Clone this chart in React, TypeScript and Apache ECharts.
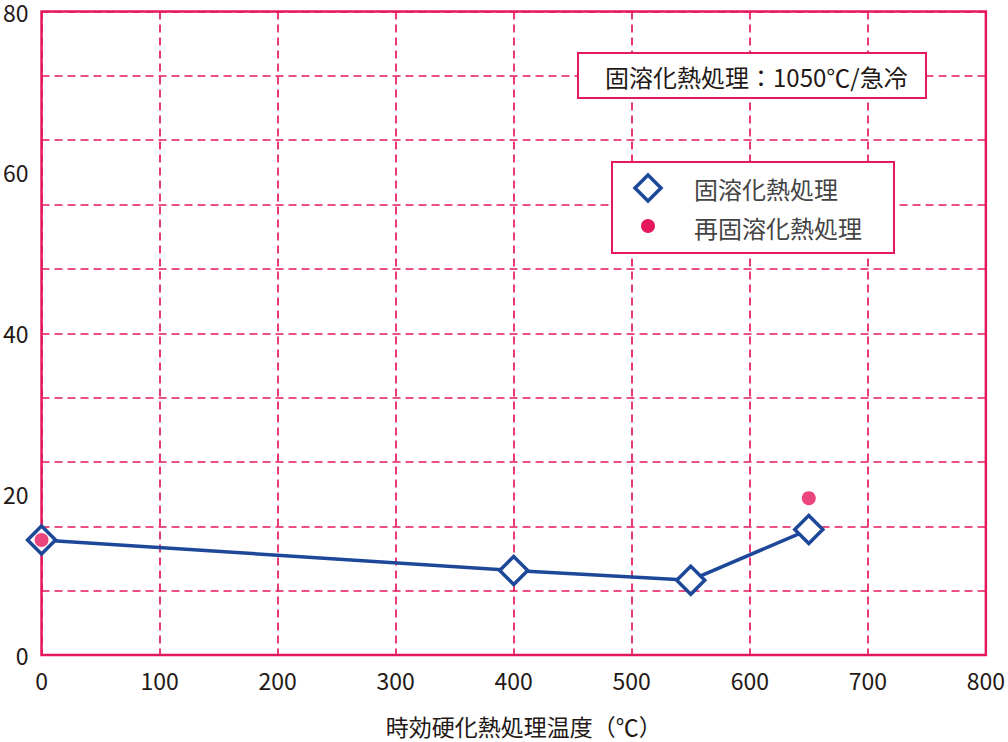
import React, { useEffect, useRef } from "react";
import * as echarts from "echarts";

const PINK = "#e5185d";
const BLUE = "#1d4899";
const TEXT = "#231815";
const FONT = "'Noto Sans CJK JP', 'Noto Sans', sans-serif";

const xTicks = [0, 100, 200, 300, 400, 500, 600, 700, 800];
const yTicks = [0, 20, 40, 60, 80];
const yGridStep = 8;

const solutionTemps = [0, 400, 550, 650];
const solutionValues = [14.3, 10.5, 9.3, 15.6];

const reSolutionTemps = [0, 650];
const reSolutionValues = [14.3, 19.5];

const seriesNames = ["固溶化熱処理", "再固溶化熱処理"];
const noteText = "固溶化熱処理：1050℃/急冷";
const xName = "時効硬化熱処理温度（℃）";

export default function App() {
  const ref = useRef<HTMLDivElement>(null);

  useEffect(() => {
    if (!ref.current) return;
    const chart = echarts.init(ref.current, null, { renderer: "svg" });
    const dashed = { show: true, lineStyle: { color: PINK, width: 1.7, type: [8, 5] as any } };
    const option: any = {
      animation: false,
      backgroundColor: "#ffffff",
      textStyle: { fontFamily: FONT },
      grid: {
        left: 39,
        right: 17,
        top: 10,
        bottom: 81,
        show: true,
        borderColor: PINK,
        borderWidth: 2.5,
        backgroundColor: "transparent",
        containLabel: false,
      },
      xAxis: {
        type: "value",
        min: xTicks[0],
        max: xTicks[xTicks.length - 1],
        interval: 100,
        name: xName,
        nameLocation: "middle",
        nameGap: 59,
        nameTextStyle: { fontFamily: FONT, fontSize: 23, color: TEXT, padding: [0, 0, 0, 20] },
        axisLine: { show: false },
        axisTick: { show: false },
        axisLabel: { fontFamily: FONT, fontSize: 23, color: TEXT, margin: 13 },
        splitLine: dashed,
      },
      yAxis: [
        {
          type: "value",
          min: yTicks[0],
          max: yTicks[yTicks.length - 1],
          interval: 20,
          axisLine: { show: false },
          axisTick: { show: false },
          axisLabel: {
            fontFamily: FONT,
            fontSize: 23,
            lineHeight: 18,
            color: TEXT,
            margin: 13,
          },
          splitLine: { show: false },
        },
        {
          type: "value",
          position: "left",
          min: yTicks[0],
          max: yTicks[yTicks.length - 1],
          interval: yGridStep,
          axisLine: { show: false },
          axisTick: { show: false },
          axisLabel: { show: false },
          splitLine: dashed,
        },
      ],
      series: [
        {
          name: seriesNames[0],
          type: "line",
          yAxisIndex: 0,
          data: solutionTemps.map((t, i) => [t, solutionValues[i]]),
          clip: false,
          symbol: "diamond",
          symbolSize: 28,
          lineStyle: { color: BLUE, width: 3.5 },
          itemStyle: { color: "#ffffff", borderColor: BLUE, borderWidth: 3.5 },
          z: 3,
        },
        {
          name: seriesNames[1],
          type: "scatter",
          yAxisIndex: 0,
          data: reSolutionTemps.map((t, i) => [t, reSolutionValues[i]]),
          clip: false,
          symbol: "circle",
          symbolSize: 14,
          itemStyle: { color: PINK },
          z: 4,
        },
      ],
      graphic: [
        {
          type: "rect",
          shape: { x: 578, y: 53, width: 348, height: 45 },
          style: { fill: "#ffffff", stroke: PINK, lineWidth: 2 },
          z: 10,
        },
        {
          type: "text",
          x: 605,
          y: 76,
          style: {
            text: noteText,
            fontFamily: FONT,
            fontSize: 24,
            fill: TEXT,
            verticalAlign: "middle",
            textAlign: "left",
          },
          z: 11,
        },
        {
          type: "rect",
          shape: { x: 612, y: 162, width: 282, height: 91 },
          style: { fill: "#ffffff", stroke: PINK, lineWidth: 2 },
          z: 10,
        },
        {
          type: "polygon",
          shape: { points: [[648, 175], [661, 188], [648, 201], [635, 188]] },
          style: { fill: "#ffffff", stroke: BLUE, lineWidth: 3.5 },
          z: 11,
        },
        {
          type: "circle",
          shape: { cx: 648, cy: 226, r: 7 },
          style: { fill: PINK },
          z: 11,
        },
        {
          type: "text",
          x: 694,
          y: 188,
          style: {
            text: seriesNames[0],
            fontFamily: FONT,
            fontSize: 24,
            fill: "#444444",
            verticalAlign: "middle",
          },
          z: 11,
        },
        {
          type: "text",
          x: 694,
          y: 227,
          style: {
            text: seriesNames[1],
            fontFamily: FONT,
            fontSize: 24,
            fill: "#444444",
            verticalAlign: "middle",
          },
          z: 11,
        },
      ],
    };
    chart.setOption(option);
    return () => chart.dispose();
  }, []);

  return (
    <div
      ref={ref}
      style={{ position: "fixed", left: 0, top: 0, width: 1008, height: 742, background: "#fff" }}
    />
  );
}
